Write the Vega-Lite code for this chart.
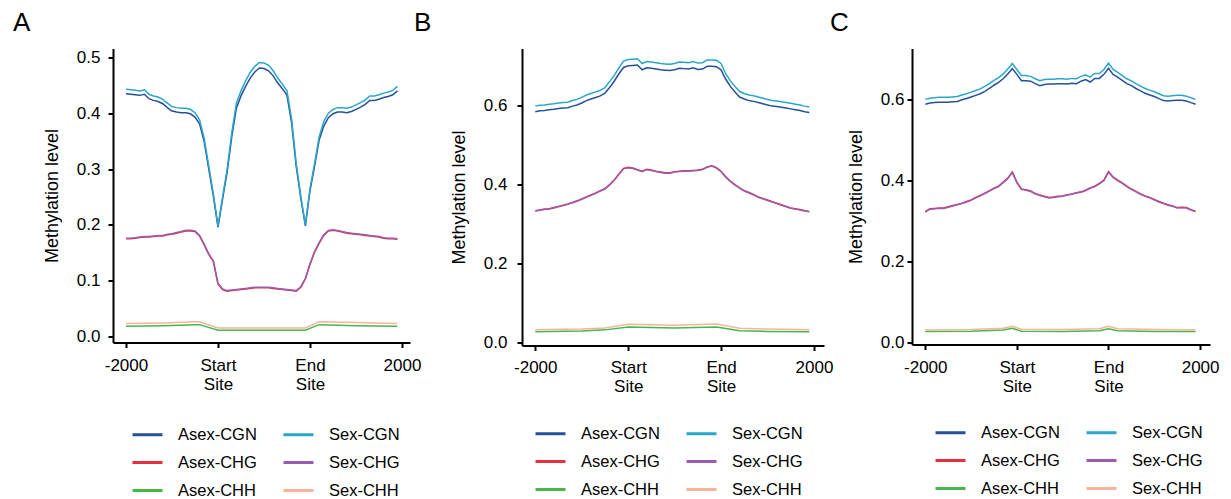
{
  "$schema": "https://vega.github.io/schema/vega-lite/v6.json",
  "background": "white",
  "padding": {"left": 13, "top": 9.5, "right": 2, "bottom": 2},
  "config": {
    "font": "Liberation Sans",
    "view": {"stroke": null},
    "axis": {"grid": false, "domainColor": "#000", "domainWidth": 2, "tickColor": "#000", "tickWidth": 2, "tickSize": 5, "labelColor": "#000", "labelFontSize": 17, "titleFontSize": 18, "titleFontWeight": "normal", "titleColor": "#000", "titlePadding": 15},
    "title": {"fontSize": 26, "fontWeight": "normal", "anchor": "start", "frame": "group", "offset": 12.5, "color": "#000"},
    "legend": {"orient": "none", "columns": 2, "direction": "horizontal", "title": null, "symbolType": "M-1,0H3", "symbolSize": 225, "symbolStrokeWidth": 3, "labelOffset": 29, "labelFontSize": 16.5, "labelColor": "#000", "rowPadding": 10, "columnPadding": 20}
  },
  "resolve": {"legend": {"color": "independent"}, "scale": {"color": "independent"}},
  "datasets": {
    "A": [
      {"s":"Asex-CGN","x":0,"y":0.435},{"s":"Asex-CGN","x":1,"y":0.434},{"s":"Asex-CGN","x":2,"y":0.433},{"s":"Asex-CGN","x":3,"y":0.432},{"s":"Asex-CGN","x":4,"y":0.434},{"s":"Asex-CGN","x":5,"y":0.426},{"s":"Asex-CGN","x":6,"y":0.423},{"s":"Asex-CGN","x":7,"y":0.421},{"s":"Asex-CGN","x":8,"y":0.417},{"s":"Asex-CGN","x":9,"y":0.410},{"s":"Asex-CGN","x":10,"y":0.404},{"s":"Asex-CGN","x":11,"y":0.402},{"s":"Asex-CGN","x":12,"y":0.401},{"s":"Asex-CGN","x":13,"y":0.401},{"s":"Asex-CGN","x":14,"y":0.399},{"s":"Asex-CGN","x":15,"y":0.393},{"s":"Asex-CGN","x":16,"y":0.381},{"s":"Asex-CGN","x":17,"y":0.349},{"s":"Asex-CGN","x":18,"y":0.300},{"s":"Asex-CGN","x":19,"y":0.251},{"s":"Asex-CGN","x":20,"y":0.196},{"s":"Asex-CGN","x":21,"y":0.246},{"s":"Asex-CGN","x":22,"y":0.295},{"s":"Asex-CGN","x":23,"y":0.358},{"s":"Asex-CGN","x":24,"y":0.409},{"s":"Asex-CGN","x":25,"y":0.431},{"s":"Asex-CGN","x":26,"y":0.448},{"s":"Asex-CGN","x":27,"y":0.463},{"s":"Asex-CGN","x":28,"y":0.474},{"s":"Asex-CGN","x":29,"y":0.481},{"s":"Asex-CGN","x":30,"y":0.480},{"s":"Asex-CGN","x":31,"y":0.476},{"s":"Asex-CGN","x":32,"y":0.467},{"s":"Asex-CGN","x":33,"y":0.454},{"s":"Asex-CGN","x":34,"y":0.444},{"s":"Asex-CGN","x":35,"y":0.432},{"s":"Asex-CGN","x":36,"y":0.383},{"s":"Asex-CGN","x":37,"y":0.305},{"s":"Asex-CGN","x":38,"y":0.248},{"s":"Asex-CGN","x":39,"y":0.198},{"s":"Asex-CGN","x":40,"y":0.261},{"s":"Asex-CGN","x":41,"y":0.305},{"s":"Asex-CGN","x":42,"y":0.352},{"s":"Asex-CGN","x":43,"y":0.377},{"s":"Asex-CGN","x":44,"y":0.392},{"s":"Asex-CGN","x":45,"y":0.399},{"s":"Asex-CGN","x":46,"y":0.402},{"s":"Asex-CGN","x":47,"y":0.402},{"s":"Asex-CGN","x":48,"y":0.401},{"s":"Asex-CGN","x":49,"y":0.403},{"s":"Asex-CGN","x":50,"y":0.407},{"s":"Asex-CGN","x":51,"y":0.411},{"s":"Asex-CGN","x":52,"y":0.416},{"s":"Asex-CGN","x":53,"y":0.423},{"s":"Asex-CGN","x":54,"y":0.423},{"s":"Asex-CGN","x":55,"y":0.425},{"s":"Asex-CGN","x":56,"y":0.428},{"s":"Asex-CGN","x":57,"y":0.430},{"s":"Asex-CGN","x":58,"y":0.433},{"s":"Asex-CGN","x":59,"y":0.440},
      {"s":"Asex-CHG","x":0,"y":0.175},{"s":"Asex-CHG","x":1,"y":0.175},{"s":"Asex-CHG","x":2,"y":0.176},{"s":"Asex-CHG","x":3,"y":0.177},{"s":"Asex-CHG","x":4,"y":0.178},{"s":"Asex-CHG","x":5,"y":0.178},{"s":"Asex-CHG","x":6,"y":0.179},{"s":"Asex-CHG","x":7,"y":0.180},{"s":"Asex-CHG","x":8,"y":0.180},{"s":"Asex-CHG","x":9,"y":0.182},{"s":"Asex-CHG","x":10,"y":0.183},{"s":"Asex-CHG","x":11,"y":0.185},{"s":"Asex-CHG","x":12,"y":0.187},{"s":"Asex-CHG","x":13,"y":0.189},{"s":"Asex-CHG","x":14,"y":0.189},{"s":"Asex-CHG","x":15,"y":0.188},{"s":"Asex-CHG","x":16,"y":0.180},{"s":"Asex-CHG","x":17,"y":0.164},{"s":"Asex-CHG","x":18,"y":0.147},{"s":"Asex-CHG","x":19,"y":0.134},{"s":"Asex-CHG","x":20,"y":0.094},{"s":"Asex-CHG","x":21,"y":0.084},{"s":"Asex-CHG","x":22,"y":0.081},{"s":"Asex-CHG","x":23,"y":0.082},{"s":"Asex-CHG","x":24,"y":0.083},{"s":"Asex-CHG","x":25,"y":0.084},{"s":"Asex-CHG","x":26,"y":0.085},{"s":"Asex-CHG","x":27,"y":0.086},{"s":"Asex-CHG","x":28,"y":0.087},{"s":"Asex-CHG","x":29,"y":0.087},{"s":"Asex-CHG","x":30,"y":0.087},{"s":"Asex-CHG","x":31,"y":0.087},{"s":"Asex-CHG","x":32,"y":0.086},{"s":"Asex-CHG","x":33,"y":0.085},{"s":"Asex-CHG","x":34,"y":0.084},{"s":"Asex-CHG","x":35,"y":0.083},{"s":"Asex-CHG","x":36,"y":0.082},{"s":"Asex-CHG","x":37,"y":0.081},{"s":"Asex-CHG","x":38,"y":0.088},{"s":"Asex-CHG","x":39,"y":0.103},{"s":"Asex-CHG","x":40,"y":0.129},{"s":"Asex-CHG","x":41,"y":0.151},{"s":"Asex-CHG","x":42,"y":0.167},{"s":"Asex-CHG","x":43,"y":0.181},{"s":"Asex-CHG","x":44,"y":0.189},{"s":"Asex-CHG","x":45,"y":0.190},{"s":"Asex-CHG","x":46,"y":0.189},{"s":"Asex-CHG","x":47,"y":0.187},{"s":"Asex-CHG","x":48,"y":0.185},{"s":"Asex-CHG","x":49,"y":0.184},{"s":"Asex-CHG","x":50,"y":0.183},{"s":"Asex-CHG","x":51,"y":0.182},{"s":"Asex-CHG","x":52,"y":0.181},{"s":"Asex-CHG","x":53,"y":0.180},{"s":"Asex-CHG","x":54,"y":0.179},{"s":"Asex-CHG","x":55,"y":0.178},{"s":"Asex-CHG","x":56,"y":0.176},{"s":"Asex-CHG","x":57,"y":0.175},{"s":"Asex-CHG","x":58,"y":0.175},{"s":"Asex-CHG","x":59,"y":0.174},
      {"s":"Asex-CHH","x":0,"y":0.018},{"s":"Asex-CHH","x":8,"y":0.019},{"s":"Asex-CHH","x":15,"y":0.021},{"s":"Asex-CHH","x":16,"y":0.021},{"s":"Asex-CHH","x":20,"y":0.011},{"s":"Asex-CHH","x":30,"y":0.011},{"s":"Asex-CHH","x":39,"y":0.011},{"s":"Asex-CHH","x":42,"y":0.021},{"s":"Asex-CHH","x":50,"y":0.019},{"s":"Asex-CHH","x":59,"y":0.018},
      {"s":"Sex-CGN","x":0,"y":0.443},{"s":"Sex-CGN","x":1,"y":0.442},{"s":"Sex-CGN","x":2,"y":0.441},{"s":"Sex-CGN","x":3,"y":0.440},{"s":"Sex-CGN","x":4,"y":0.442},{"s":"Sex-CGN","x":5,"y":0.434},{"s":"Sex-CGN","x":6,"y":0.431},{"s":"Sex-CGN","x":7,"y":0.429},{"s":"Sex-CGN","x":8,"y":0.425},{"s":"Sex-CGN","x":9,"y":0.418},{"s":"Sex-CGN","x":10,"y":0.412},{"s":"Sex-CGN","x":11,"y":0.410},{"s":"Sex-CGN","x":12,"y":0.409},{"s":"Sex-CGN","x":13,"y":0.409},{"s":"Sex-CGN","x":14,"y":0.407},{"s":"Sex-CGN","x":15,"y":0.401},{"s":"Sex-CGN","x":16,"y":0.388},{"s":"Sex-CGN","x":17,"y":0.355},{"s":"Sex-CGN","x":18,"y":0.305},{"s":"Sex-CGN","x":19,"y":0.255},{"s":"Sex-CGN","x":20,"y":0.198},{"s":"Sex-CGN","x":21,"y":0.250},{"s":"Sex-CGN","x":22,"y":0.300},{"s":"Sex-CGN","x":23,"y":0.365},{"s":"Sex-CGN","x":24,"y":0.418},{"s":"Sex-CGN","x":25,"y":0.440},{"s":"Sex-CGN","x":26,"y":0.458},{"s":"Sex-CGN","x":27,"y":0.473},{"s":"Sex-CGN","x":28,"y":0.484},{"s":"Sex-CGN","x":29,"y":0.491},{"s":"Sex-CGN","x":30,"y":0.490},{"s":"Sex-CGN","x":31,"y":0.486},{"s":"Sex-CGN","x":32,"y":0.476},{"s":"Sex-CGN","x":33,"y":0.463},{"s":"Sex-CGN","x":34,"y":0.452},{"s":"Sex-CGN","x":35,"y":0.440},{"s":"Sex-CGN","x":36,"y":0.390},{"s":"Sex-CGN","x":37,"y":0.310},{"s":"Sex-CGN","x":38,"y":0.252},{"s":"Sex-CGN","x":39,"y":0.200},{"s":"Sex-CGN","x":40,"y":0.265},{"s":"Sex-CGN","x":41,"y":0.310},{"s":"Sex-CGN","x":42,"y":0.358},{"s":"Sex-CGN","x":43,"y":0.385},{"s":"Sex-CGN","x":44,"y":0.400},{"s":"Sex-CGN","x":45,"y":0.407},{"s":"Sex-CGN","x":46,"y":0.410},{"s":"Sex-CGN","x":47,"y":0.410},{"s":"Sex-CGN","x":48,"y":0.409},{"s":"Sex-CGN","x":49,"y":0.411},{"s":"Sex-CGN","x":50,"y":0.415},{"s":"Sex-CGN","x":51,"y":0.419},{"s":"Sex-CGN","x":52,"y":0.424},{"s":"Sex-CGN","x":53,"y":0.431},{"s":"Sex-CGN","x":54,"y":0.431},{"s":"Sex-CGN","x":55,"y":0.433},{"s":"Sex-CGN","x":56,"y":0.436},{"s":"Sex-CGN","x":57,"y":0.438},{"s":"Sex-CGN","x":58,"y":0.441},{"s":"Sex-CGN","x":59,"y":0.448},
      {"s":"Sex-CHG","x":0,"y":0.176},{"s":"Sex-CHG","x":1,"y":0.176},{"s":"Sex-CHG","x":2,"y":0.177},{"s":"Sex-CHG","x":3,"y":0.178},{"s":"Sex-CHG","x":4,"y":0.179},{"s":"Sex-CHG","x":5,"y":0.179},{"s":"Sex-CHG","x":6,"y":0.180},{"s":"Sex-CHG","x":7,"y":0.181},{"s":"Sex-CHG","x":8,"y":0.181},{"s":"Sex-CHG","x":9,"y":0.183},{"s":"Sex-CHG","x":10,"y":0.184},{"s":"Sex-CHG","x":11,"y":0.186},{"s":"Sex-CHG","x":12,"y":0.188},{"s":"Sex-CHG","x":13,"y":0.190},{"s":"Sex-CHG","x":14,"y":0.190},{"s":"Sex-CHG","x":15,"y":0.189},{"s":"Sex-CHG","x":16,"y":0.181},{"s":"Sex-CHG","x":17,"y":0.165},{"s":"Sex-CHG","x":18,"y":0.148},{"s":"Sex-CHG","x":19,"y":0.135},{"s":"Sex-CHG","x":20,"y":0.095},{"s":"Sex-CHG","x":21,"y":0.085},{"s":"Sex-CHG","x":22,"y":0.082},{"s":"Sex-CHG","x":23,"y":0.083},{"s":"Sex-CHG","x":24,"y":0.084},{"s":"Sex-CHG","x":25,"y":0.085},{"s":"Sex-CHG","x":26,"y":0.086},{"s":"Sex-CHG","x":27,"y":0.087},{"s":"Sex-CHG","x":28,"y":0.088},{"s":"Sex-CHG","x":29,"y":0.088},{"s":"Sex-CHG","x":30,"y":0.088},{"s":"Sex-CHG","x":31,"y":0.088},{"s":"Sex-CHG","x":32,"y":0.087},{"s":"Sex-CHG","x":33,"y":0.086},{"s":"Sex-CHG","x":34,"y":0.085},{"s":"Sex-CHG","x":35,"y":0.084},{"s":"Sex-CHG","x":36,"y":0.083},{"s":"Sex-CHG","x":37,"y":0.082},{"s":"Sex-CHG","x":38,"y":0.089},{"s":"Sex-CHG","x":39,"y":0.104},{"s":"Sex-CHG","x":40,"y":0.130},{"s":"Sex-CHG","x":41,"y":0.152},{"s":"Sex-CHG","x":42,"y":0.168},{"s":"Sex-CHG","x":43,"y":0.182},{"s":"Sex-CHG","x":44,"y":0.190},{"s":"Sex-CHG","x":45,"y":0.191},{"s":"Sex-CHG","x":46,"y":0.190},{"s":"Sex-CHG","x":47,"y":0.188},{"s":"Sex-CHG","x":48,"y":0.186},{"s":"Sex-CHG","x":49,"y":0.185},{"s":"Sex-CHG","x":50,"y":0.184},{"s":"Sex-CHG","x":51,"y":0.183},{"s":"Sex-CHG","x":52,"y":0.182},{"s":"Sex-CHG","x":53,"y":0.181},{"s":"Sex-CHG","x":54,"y":0.180},{"s":"Sex-CHG","x":55,"y":0.179},{"s":"Sex-CHG","x":56,"y":0.177},{"s":"Sex-CHG","x":57,"y":0.176},{"s":"Sex-CHG","x":58,"y":0.176},{"s":"Sex-CHG","x":59,"y":0.175},
      {"s":"Sex-CHH","x":0,"y":0.023},{"s":"Sex-CHH","x":8,"y":0.024},{"s":"Sex-CHH","x":15,"y":0.026},{"s":"Sex-CHH","x":16,"y":0.026},{"s":"Sex-CHH","x":20,"y":0.015},{"s":"Sex-CHH","x":30,"y":0.015},{"s":"Sex-CHH","x":39,"y":0.015},{"s":"Sex-CHH","x":42,"y":0.026},{"s":"Sex-CHH","x":50,"y":0.025},{"s":"Sex-CHH","x":59,"y":0.023}
    ],
    "B": [
      {"s":"Asex-CGN","x":0,"y":0.584},{"s":"Asex-CGN","x":1,"y":0.586},{"s":"Asex-CGN","x":2,"y":0.587},{"s":"Asex-CGN","x":3,"y":0.589},{"s":"Asex-CGN","x":4,"y":0.590},{"s":"Asex-CGN","x":5,"y":0.592},{"s":"Asex-CGN","x":6,"y":0.593},{"s":"Asex-CGN","x":7,"y":0.594},{"s":"Asex-CGN","x":8,"y":0.598},{"s":"Asex-CGN","x":9,"y":0.601},{"s":"Asex-CGN","x":10,"y":0.606},{"s":"Asex-CGN","x":11,"y":0.612},{"s":"Asex-CGN","x":12,"y":0.616},{"s":"Asex-CGN","x":13,"y":0.620},{"s":"Asex-CGN","x":14,"y":0.624},{"s":"Asex-CGN","x":15,"y":0.631},{"s":"Asex-CGN","x":16,"y":0.645},{"s":"Asex-CGN","x":17,"y":0.661},{"s":"Asex-CGN","x":18,"y":0.680},{"s":"Asex-CGN","x":19,"y":0.696},{"s":"Asex-CGN","x":20,"y":0.700},{"s":"Asex-CGN","x":21,"y":0.701},{"s":"Asex-CGN","x":22,"y":0.702},{"s":"Asex-CGN","x":23,"y":0.690},{"s":"Asex-CGN","x":24,"y":0.695},{"s":"Asex-CGN","x":25,"y":0.694},{"s":"Asex-CGN","x":26,"y":0.692},{"s":"Asex-CGN","x":27,"y":0.690},{"s":"Asex-CGN","x":28,"y":0.689},{"s":"Asex-CGN","x":29,"y":0.688},{"s":"Asex-CGN","x":30,"y":0.690},{"s":"Asex-CGN","x":31,"y":0.694},{"s":"Asex-CGN","x":32,"y":0.693},{"s":"Asex-CGN","x":33,"y":0.692},{"s":"Asex-CGN","x":34,"y":0.695},{"s":"Asex-CGN","x":35,"y":0.691},{"s":"Asex-CGN","x":36,"y":0.692},{"s":"Asex-CGN","x":37,"y":0.699},{"s":"Asex-CGN","x":38,"y":0.699},{"s":"Asex-CGN","x":39,"y":0.698},{"s":"Asex-CGN","x":40,"y":0.690},{"s":"Asex-CGN","x":41,"y":0.666},{"s":"Asex-CGN","x":42,"y":0.648},{"s":"Asex-CGN","x":43,"y":0.634},{"s":"Asex-CGN","x":44,"y":0.621},{"s":"Asex-CGN","x":45,"y":0.616},{"s":"Asex-CGN","x":46,"y":0.612},{"s":"Asex-CGN","x":47,"y":0.610},{"s":"Asex-CGN","x":48,"y":0.607},{"s":"Asex-CGN","x":49,"y":0.604},{"s":"Asex-CGN","x":50,"y":0.601},{"s":"Asex-CGN","x":51,"y":0.598},{"s":"Asex-CGN","x":52,"y":0.597},{"s":"Asex-CGN","x":53,"y":0.595},{"s":"Asex-CGN","x":54,"y":0.593},{"s":"Asex-CGN","x":55,"y":0.591},{"s":"Asex-CGN","x":56,"y":0.589},{"s":"Asex-CGN","x":57,"y":0.587},{"s":"Asex-CGN","x":58,"y":0.584},{"s":"Asex-CGN","x":59,"y":0.582},
      {"s":"Asex-CHG","x":0,"y":0.333},{"s":"Asex-CHG","x":1,"y":0.335},{"s":"Asex-CHG","x":2,"y":0.337},{"s":"Asex-CHG","x":3,"y":0.338},{"s":"Asex-CHG","x":4,"y":0.341},{"s":"Asex-CHG","x":5,"y":0.344},{"s":"Asex-CHG","x":6,"y":0.347},{"s":"Asex-CHG","x":7,"y":0.350},{"s":"Asex-CHG","x":8,"y":0.354},{"s":"Asex-CHG","x":9,"y":0.358},{"s":"Asex-CHG","x":10,"y":0.363},{"s":"Asex-CHG","x":11,"y":0.368},{"s":"Asex-CHG","x":12,"y":0.373},{"s":"Asex-CHG","x":13,"y":0.378},{"s":"Asex-CHG","x":14,"y":0.384},{"s":"Asex-CHG","x":15,"y":0.389},{"s":"Asex-CHG","x":16,"y":0.399},{"s":"Asex-CHG","x":17,"y":0.411},{"s":"Asex-CHG","x":18,"y":0.426},{"s":"Asex-CHG","x":19,"y":0.440},{"s":"Asex-CHG","x":20,"y":0.443},{"s":"Asex-CHG","x":21,"y":0.441},{"s":"Asex-CHG","x":22,"y":0.437},{"s":"Asex-CHG","x":23,"y":0.433},{"s":"Asex-CHG","x":24,"y":0.438},{"s":"Asex-CHG","x":25,"y":0.436},{"s":"Asex-CHG","x":26,"y":0.433},{"s":"Asex-CHG","x":27,"y":0.431},{"s":"Asex-CHG","x":28,"y":0.429},{"s":"Asex-CHG","x":29,"y":0.429},{"s":"Asex-CHG","x":30,"y":0.432},{"s":"Asex-CHG","x":31,"y":0.433},{"s":"Asex-CHG","x":32,"y":0.434},{"s":"Asex-CHG","x":33,"y":0.434},{"s":"Asex-CHG","x":34,"y":0.435},{"s":"Asex-CHG","x":35,"y":0.436},{"s":"Asex-CHG","x":36,"y":0.438},{"s":"Asex-CHG","x":37,"y":0.444},{"s":"Asex-CHG","x":38,"y":0.447},{"s":"Asex-CHG","x":39,"y":0.442},{"s":"Asex-CHG","x":40,"y":0.433},{"s":"Asex-CHG","x":41,"y":0.419},{"s":"Asex-CHG","x":42,"y":0.408},{"s":"Asex-CHG","x":43,"y":0.399},{"s":"Asex-CHG","x":44,"y":0.391},{"s":"Asex-CHG","x":45,"y":0.384},{"s":"Asex-CHG","x":46,"y":0.379},{"s":"Asex-CHG","x":47,"y":0.374},{"s":"Asex-CHG","x":48,"y":0.368},{"s":"Asex-CHG","x":49,"y":0.364},{"s":"Asex-CHG","x":50,"y":0.360},{"s":"Asex-CHG","x":51,"y":0.356},{"s":"Asex-CHG","x":52,"y":0.352},{"s":"Asex-CHG","x":53,"y":0.348},{"s":"Asex-CHG","x":54,"y":0.344},{"s":"Asex-CHG","x":55,"y":0.340},{"s":"Asex-CHG","x":56,"y":0.338},{"s":"Asex-CHG","x":57,"y":0.336},{"s":"Asex-CHG","x":58,"y":0.333},{"s":"Asex-CHG","x":59,"y":0.331},
      {"s":"Asex-CHH","x":0,"y":0.026},{"s":"Asex-CHH","x":10,"y":0.028},{"s":"Asex-CHH","x":15,"y":0.031},{"s":"Asex-CHH","x":20,"y":0.038},{"s":"Asex-CHH","x":30,"y":0.036},{"s":"Asex-CHH","x":39,"y":0.038},{"s":"Asex-CHH","x":44,"y":0.029},{"s":"Asex-CHH","x":50,"y":0.027},{"s":"Asex-CHH","x":59,"y":0.026},
      {"s":"Sex-CGN","x":0,"y":0.598},{"s":"Sex-CGN","x":1,"y":0.600},{"s":"Sex-CGN","x":2,"y":0.601},{"s":"Sex-CGN","x":3,"y":0.603},{"s":"Sex-CGN","x":4,"y":0.604},{"s":"Sex-CGN","x":5,"y":0.606},{"s":"Sex-CGN","x":6,"y":0.607},{"s":"Sex-CGN","x":7,"y":0.608},{"s":"Sex-CGN","x":8,"y":0.612},{"s":"Sex-CGN","x":9,"y":0.615},{"s":"Sex-CGN","x":10,"y":0.620},{"s":"Sex-CGN","x":11,"y":0.626},{"s":"Sex-CGN","x":12,"y":0.630},{"s":"Sex-CGN","x":13,"y":0.634},{"s":"Sex-CGN","x":14,"y":0.638},{"s":"Sex-CGN","x":15,"y":0.645},{"s":"Sex-CGN","x":16,"y":0.660},{"s":"Sex-CGN","x":17,"y":0.676},{"s":"Sex-CGN","x":18,"y":0.695},{"s":"Sex-CGN","x":19,"y":0.712},{"s":"Sex-CGN","x":20,"y":0.716},{"s":"Sex-CGN","x":21,"y":0.717},{"s":"Sex-CGN","x":22,"y":0.718},{"s":"Sex-CGN","x":23,"y":0.706},{"s":"Sex-CGN","x":24,"y":0.711},{"s":"Sex-CGN","x":25,"y":0.710},{"s":"Sex-CGN","x":26,"y":0.708},{"s":"Sex-CGN","x":27,"y":0.706},{"s":"Sex-CGN","x":28,"y":0.705},{"s":"Sex-CGN","x":29,"y":0.704},{"s":"Sex-CGN","x":30,"y":0.706},{"s":"Sex-CGN","x":31,"y":0.710},{"s":"Sex-CGN","x":32,"y":0.709},{"s":"Sex-CGN","x":33,"y":0.708},{"s":"Sex-CGN","x":34,"y":0.711},{"s":"Sex-CGN","x":35,"y":0.707},{"s":"Sex-CGN","x":36,"y":0.708},{"s":"Sex-CGN","x":37,"y":0.715},{"s":"Sex-CGN","x":38,"y":0.715},{"s":"Sex-CGN","x":39,"y":0.714},{"s":"Sex-CGN","x":40,"y":0.706},{"s":"Sex-CGN","x":41,"y":0.680},{"s":"Sex-CGN","x":42,"y":0.662},{"s":"Sex-CGN","x":43,"y":0.648},{"s":"Sex-CGN","x":44,"y":0.635},{"s":"Sex-CGN","x":45,"y":0.630},{"s":"Sex-CGN","x":46,"y":0.626},{"s":"Sex-CGN","x":47,"y":0.624},{"s":"Sex-CGN","x":48,"y":0.621},{"s":"Sex-CGN","x":49,"y":0.618},{"s":"Sex-CGN","x":50,"y":0.615},{"s":"Sex-CGN","x":51,"y":0.612},{"s":"Sex-CGN","x":52,"y":0.611},{"s":"Sex-CGN","x":53,"y":0.609},{"s":"Sex-CGN","x":54,"y":0.607},{"s":"Sex-CGN","x":55,"y":0.605},{"s":"Sex-CGN","x":56,"y":0.603},{"s":"Sex-CGN","x":57,"y":0.601},{"s":"Sex-CGN","x":58,"y":0.598},{"s":"Sex-CGN","x":59,"y":0.596},
      {"s":"Sex-CHG","x":0,"y":0.332},{"s":"Sex-CHG","x":1,"y":0.334},{"s":"Sex-CHG","x":2,"y":0.336},{"s":"Sex-CHG","x":3,"y":0.337},{"s":"Sex-CHG","x":4,"y":0.340},{"s":"Sex-CHG","x":5,"y":0.343},{"s":"Sex-CHG","x":6,"y":0.346},{"s":"Sex-CHG","x":7,"y":0.349},{"s":"Sex-CHG","x":8,"y":0.353},{"s":"Sex-CHG","x":9,"y":0.357},{"s":"Sex-CHG","x":10,"y":0.362},{"s":"Sex-CHG","x":11,"y":0.367},{"s":"Sex-CHG","x":12,"y":0.372},{"s":"Sex-CHG","x":13,"y":0.377},{"s":"Sex-CHG","x":14,"y":0.383},{"s":"Sex-CHG","x":15,"y":0.388},{"s":"Sex-CHG","x":16,"y":0.398},{"s":"Sex-CHG","x":17,"y":0.410},{"s":"Sex-CHG","x":18,"y":0.425},{"s":"Sex-CHG","x":19,"y":0.439},{"s":"Sex-CHG","x":20,"y":0.442},{"s":"Sex-CHG","x":21,"y":0.440},{"s":"Sex-CHG","x":22,"y":0.436},{"s":"Sex-CHG","x":23,"y":0.432},{"s":"Sex-CHG","x":24,"y":0.437},{"s":"Sex-CHG","x":25,"y":0.435},{"s":"Sex-CHG","x":26,"y":0.432},{"s":"Sex-CHG","x":27,"y":0.430},{"s":"Sex-CHG","x":28,"y":0.428},{"s":"Sex-CHG","x":29,"y":0.428},{"s":"Sex-CHG","x":30,"y":0.431},{"s":"Sex-CHG","x":31,"y":0.432},{"s":"Sex-CHG","x":32,"y":0.433},{"s":"Sex-CHG","x":33,"y":0.433},{"s":"Sex-CHG","x":34,"y":0.434},{"s":"Sex-CHG","x":35,"y":0.435},{"s":"Sex-CHG","x":36,"y":0.437},{"s":"Sex-CHG","x":37,"y":0.443},{"s":"Sex-CHG","x":38,"y":0.446},{"s":"Sex-CHG","x":39,"y":0.441},{"s":"Sex-CHG","x":40,"y":0.432},{"s":"Sex-CHG","x":41,"y":0.418},{"s":"Sex-CHG","x":42,"y":0.407},{"s":"Sex-CHG","x":43,"y":0.398},{"s":"Sex-CHG","x":44,"y":0.390},{"s":"Sex-CHG","x":45,"y":0.383},{"s":"Sex-CHG","x":46,"y":0.378},{"s":"Sex-CHG","x":47,"y":0.373},{"s":"Sex-CHG","x":48,"y":0.367},{"s":"Sex-CHG","x":49,"y":0.363},{"s":"Sex-CHG","x":50,"y":0.359},{"s":"Sex-CHG","x":51,"y":0.355},{"s":"Sex-CHG","x":52,"y":0.351},{"s":"Sex-CHG","x":53,"y":0.347},{"s":"Sex-CHG","x":54,"y":0.343},{"s":"Sex-CHG","x":55,"y":0.339},{"s":"Sex-CHG","x":56,"y":0.337},{"s":"Sex-CHG","x":57,"y":0.335},{"s":"Sex-CHG","x":58,"y":0.332},{"s":"Sex-CHG","x":59,"y":0.330},
      {"s":"Sex-CHH","x":0,"y":0.031},{"s":"Sex-CHH","x":10,"y":0.033},{"s":"Sex-CHH","x":15,"y":0.036},{"s":"Sex-CHH","x":20,"y":0.045},{"s":"Sex-CHH","x":30,"y":0.043},{"s":"Sex-CHH","x":39,"y":0.046},{"s":"Sex-CHH","x":44,"y":0.035},{"s":"Sex-CHH","x":50,"y":0.033},{"s":"Sex-CHH","x":59,"y":0.031}
    ],
    "C": [
      {"s":"Asex-CGN","x":0,"y":0.589},{"s":"Asex-CGN","x":1,"y":0.592},{"s":"Asex-CGN","x":2,"y":0.593},{"s":"Asex-CGN","x":3,"y":0.594},{"s":"Asex-CGN","x":4,"y":0.594},{"s":"Asex-CGN","x":5,"y":0.594},{"s":"Asex-CGN","x":6,"y":0.595},{"s":"Asex-CGN","x":7,"y":0.596},{"s":"Asex-CGN","x":8,"y":0.600},{"s":"Asex-CGN","x":9,"y":0.603},{"s":"Asex-CGN","x":10,"y":0.607},{"s":"Asex-CGN","x":11,"y":0.611},{"s":"Asex-CGN","x":12,"y":0.615},{"s":"Asex-CGN","x":13,"y":0.621},{"s":"Asex-CGN","x":14,"y":0.628},{"s":"Asex-CGN","x":15,"y":0.636},{"s":"Asex-CGN","x":16,"y":0.643},{"s":"Asex-CGN","x":17,"y":0.652},{"s":"Asex-CGN","x":18,"y":0.664},{"s":"Asex-CGN","x":19,"y":0.677},{"s":"Asex-CGN","x":20,"y":0.663},{"s":"Asex-CGN","x":21,"y":0.647},{"s":"Asex-CGN","x":22,"y":0.647},{"s":"Asex-CGN","x":23,"y":0.646},{"s":"Asex-CGN","x":24,"y":0.640},{"s":"Asex-CGN","x":25,"y":0.635},{"s":"Asex-CGN","x":26,"y":0.638},{"s":"Asex-CGN","x":27,"y":0.639},{"s":"Asex-CGN","x":28,"y":0.639},{"s":"Asex-CGN","x":29,"y":0.640},{"s":"Asex-CGN","x":30,"y":0.640},{"s":"Asex-CGN","x":31,"y":0.639},{"s":"Asex-CGN","x":32,"y":0.641},{"s":"Asex-CGN","x":33,"y":0.640},{"s":"Asex-CGN","x":34,"y":0.646},{"s":"Asex-CGN","x":35,"y":0.650},{"s":"Asex-CGN","x":36,"y":0.644},{"s":"Asex-CGN","x":37,"y":0.653},{"s":"Asex-CGN","x":38,"y":0.653},{"s":"Asex-CGN","x":39,"y":0.663},{"s":"Asex-CGN","x":40,"y":0.678},{"s":"Asex-CGN","x":41,"y":0.663},{"s":"Asex-CGN","x":42,"y":0.656},{"s":"Asex-CGN","x":43,"y":0.648},{"s":"Asex-CGN","x":44,"y":0.640},{"s":"Asex-CGN","x":45,"y":0.635},{"s":"Asex-CGN","x":46,"y":0.628},{"s":"Asex-CGN","x":47,"y":0.622},{"s":"Asex-CGN","x":48,"y":0.616},{"s":"Asex-CGN","x":49,"y":0.612},{"s":"Asex-CGN","x":50,"y":0.608},{"s":"Asex-CGN","x":51,"y":0.603},{"s":"Asex-CGN","x":52,"y":0.598},{"s":"Asex-CGN","x":53,"y":0.597},{"s":"Asex-CGN","x":54,"y":0.598},{"s":"Asex-CGN","x":55,"y":0.599},{"s":"Asex-CGN","x":56,"y":0.599},{"s":"Asex-CGN","x":57,"y":0.597},{"s":"Asex-CGN","x":58,"y":0.593},{"s":"Asex-CGN","x":59,"y":0.589},
      {"s":"Asex-CHG","x":0,"y":0.323},{"s":"Asex-CHG","x":1,"y":0.330},{"s":"Asex-CHG","x":2,"y":0.331},{"s":"Asex-CHG","x":3,"y":0.332},{"s":"Asex-CHG","x":4,"y":0.332},{"s":"Asex-CHG","x":5,"y":0.335},{"s":"Asex-CHG","x":6,"y":0.338},{"s":"Asex-CHG","x":7,"y":0.341},{"s":"Asex-CHG","x":8,"y":0.344},{"s":"Asex-CHG","x":9,"y":0.348},{"s":"Asex-CHG","x":10,"y":0.352},{"s":"Asex-CHG","x":11,"y":0.358},{"s":"Asex-CHG","x":12,"y":0.363},{"s":"Asex-CHG","x":13,"y":0.369},{"s":"Asex-CHG","x":14,"y":0.375},{"s":"Asex-CHG","x":15,"y":0.381},{"s":"Asex-CHG","x":16,"y":0.386},{"s":"Asex-CHG","x":17,"y":0.396},{"s":"Asex-CHG","x":18,"y":0.406},{"s":"Asex-CHG","x":19,"y":0.421},{"s":"Asex-CHG","x":20,"y":0.396},{"s":"Asex-CHG","x":21,"y":0.379},{"s":"Asex-CHG","x":22,"y":0.377},{"s":"Asex-CHG","x":23,"y":0.374},{"s":"Asex-CHG","x":24,"y":0.368},{"s":"Asex-CHG","x":25,"y":0.364},{"s":"Asex-CHG","x":26,"y":0.361},{"s":"Asex-CHG","x":27,"y":0.358},{"s":"Asex-CHG","x":28,"y":0.359},{"s":"Asex-CHG","x":29,"y":0.361},{"s":"Asex-CHG","x":30,"y":0.362},{"s":"Asex-CHG","x":31,"y":0.365},{"s":"Asex-CHG","x":32,"y":0.367},{"s":"Asex-CHG","x":33,"y":0.370},{"s":"Asex-CHG","x":34,"y":0.372},{"s":"Asex-CHG","x":35,"y":0.376},{"s":"Asex-CHG","x":36,"y":0.382},{"s":"Asex-CHG","x":37,"y":0.386},{"s":"Asex-CHG","x":38,"y":0.393},{"s":"Asex-CHG","x":39,"y":0.401},{"s":"Asex-CHG","x":40,"y":0.422},{"s":"Asex-CHG","x":41,"y":0.409},{"s":"Asex-CHG","x":42,"y":0.401},{"s":"Asex-CHG","x":43,"y":0.394},{"s":"Asex-CHG","x":44,"y":0.386},{"s":"Asex-CHG","x":45,"y":0.379},{"s":"Asex-CHG","x":46,"y":0.373},{"s":"Asex-CHG","x":47,"y":0.367},{"s":"Asex-CHG","x":48,"y":0.362},{"s":"Asex-CHG","x":49,"y":0.358},{"s":"Asex-CHG","x":50,"y":0.353},{"s":"Asex-CHG","x":51,"y":0.348},{"s":"Asex-CHG","x":52,"y":0.344},{"s":"Asex-CHG","x":53,"y":0.340},{"s":"Asex-CHG","x":54,"y":0.337},{"s":"Asex-CHG","x":55,"y":0.333},{"s":"Asex-CHG","x":56,"y":0.334},{"s":"Asex-CHG","x":57,"y":0.333},{"s":"Asex-CHG","x":58,"y":0.328},{"s":"Asex-CHG","x":59,"y":0.324},
      {"s":"Asex-CHH","x":0,"y":0.026},{"s":"Asex-CHH","x":10,"y":0.027},{"s":"Asex-CHH","x":17,"y":0.030},{"s":"Asex-CHH","x":19,"y":0.034},{"s":"Asex-CHH","x":21,"y":0.027},{"s":"Asex-CHH","x":30,"y":0.026},{"s":"Asex-CHH","x":38,"y":0.028},{"s":"Asex-CHH","x":40,"y":0.033},{"s":"Asex-CHH","x":42,"y":0.028},{"s":"Asex-CHH","x":50,"y":0.026},{"s":"Asex-CHH","x":59,"y":0.026},
      {"s":"Sex-CGN","x":0,"y":0.601},{"s":"Sex-CGN","x":1,"y":0.604},{"s":"Sex-CGN","x":2,"y":0.605},{"s":"Sex-CGN","x":3,"y":0.606},{"s":"Sex-CGN","x":4,"y":0.606},{"s":"Sex-CGN","x":5,"y":0.606},{"s":"Sex-CGN","x":6,"y":0.607},{"s":"Sex-CGN","x":7,"y":0.608},{"s":"Sex-CGN","x":8,"y":0.612},{"s":"Sex-CGN","x":9,"y":0.615},{"s":"Sex-CGN","x":10,"y":0.619},{"s":"Sex-CGN","x":11,"y":0.623},{"s":"Sex-CGN","x":12,"y":0.627},{"s":"Sex-CGN","x":13,"y":0.633},{"s":"Sex-CGN","x":14,"y":0.640},{"s":"Sex-CGN","x":15,"y":0.648},{"s":"Sex-CGN","x":16,"y":0.655},{"s":"Sex-CGN","x":17,"y":0.664},{"s":"Sex-CGN","x":18,"y":0.676},{"s":"Sex-CGN","x":19,"y":0.690},{"s":"Sex-CGN","x":20,"y":0.675},{"s":"Sex-CGN","x":21,"y":0.660},{"s":"Sex-CGN","x":22,"y":0.660},{"s":"Sex-CGN","x":23,"y":0.658},{"s":"Sex-CGN","x":24,"y":0.652},{"s":"Sex-CGN","x":25,"y":0.647},{"s":"Sex-CGN","x":26,"y":0.650},{"s":"Sex-CGN","x":27,"y":0.651},{"s":"Sex-CGN","x":28,"y":0.651},{"s":"Sex-CGN","x":29,"y":0.652},{"s":"Sex-CGN","x":30,"y":0.652},{"s":"Sex-CGN","x":31,"y":0.651},{"s":"Sex-CGN","x":32,"y":0.653},{"s":"Sex-CGN","x":33,"y":0.652},{"s":"Sex-CGN","x":34,"y":0.658},{"s":"Sex-CGN","x":35,"y":0.662},{"s":"Sex-CGN","x":36,"y":0.656},{"s":"Sex-CGN","x":37,"y":0.665},{"s":"Sex-CGN","x":38,"y":0.665},{"s":"Sex-CGN","x":39,"y":0.675},{"s":"Sex-CGN","x":40,"y":0.691},{"s":"Sex-CGN","x":41,"y":0.675},{"s":"Sex-CGN","x":42,"y":0.668},{"s":"Sex-CGN","x":43,"y":0.660},{"s":"Sex-CGN","x":44,"y":0.652},{"s":"Sex-CGN","x":45,"y":0.647},{"s":"Sex-CGN","x":46,"y":0.640},{"s":"Sex-CGN","x":47,"y":0.634},{"s":"Sex-CGN","x":48,"y":0.628},{"s":"Sex-CGN","x":49,"y":0.624},{"s":"Sex-CGN","x":50,"y":0.620},{"s":"Sex-CGN","x":51,"y":0.615},{"s":"Sex-CGN","x":52,"y":0.610},{"s":"Sex-CGN","x":53,"y":0.609},{"s":"Sex-CGN","x":54,"y":0.610},{"s":"Sex-CGN","x":55,"y":0.611},{"s":"Sex-CGN","x":56,"y":0.611},{"s":"Sex-CGN","x":57,"y":0.609},{"s":"Sex-CGN","x":58,"y":0.605},{"s":"Sex-CGN","x":59,"y":0.601},
      {"s":"Sex-CHG","x":0,"y":0.322},{"s":"Sex-CHG","x":1,"y":0.329},{"s":"Sex-CHG","x":2,"y":0.330},{"s":"Sex-CHG","x":3,"y":0.331},{"s":"Sex-CHG","x":4,"y":0.331},{"s":"Sex-CHG","x":5,"y":0.334},{"s":"Sex-CHG","x":6,"y":0.337},{"s":"Sex-CHG","x":7,"y":0.340},{"s":"Sex-CHG","x":8,"y":0.343},{"s":"Sex-CHG","x":9,"y":0.347},{"s":"Sex-CHG","x":10,"y":0.351},{"s":"Sex-CHG","x":11,"y":0.357},{"s":"Sex-CHG","x":12,"y":0.362},{"s":"Sex-CHG","x":13,"y":0.368},{"s":"Sex-CHG","x":14,"y":0.374},{"s":"Sex-CHG","x":15,"y":0.380},{"s":"Sex-CHG","x":16,"y":0.385},{"s":"Sex-CHG","x":17,"y":0.395},{"s":"Sex-CHG","x":18,"y":0.405},{"s":"Sex-CHG","x":19,"y":0.420},{"s":"Sex-CHG","x":20,"y":0.395},{"s":"Sex-CHG","x":21,"y":0.378},{"s":"Sex-CHG","x":22,"y":0.376},{"s":"Sex-CHG","x":23,"y":0.373},{"s":"Sex-CHG","x":24,"y":0.367},{"s":"Sex-CHG","x":25,"y":0.363},{"s":"Sex-CHG","x":26,"y":0.360},{"s":"Sex-CHG","x":27,"y":0.357},{"s":"Sex-CHG","x":28,"y":0.358},{"s":"Sex-CHG","x":29,"y":0.360},{"s":"Sex-CHG","x":30,"y":0.361},{"s":"Sex-CHG","x":31,"y":0.364},{"s":"Sex-CHG","x":32,"y":0.366},{"s":"Sex-CHG","x":33,"y":0.369},{"s":"Sex-CHG","x":34,"y":0.371},{"s":"Sex-CHG","x":35,"y":0.375},{"s":"Sex-CHG","x":36,"y":0.381},{"s":"Sex-CHG","x":37,"y":0.385},{"s":"Sex-CHG","x":38,"y":0.392},{"s":"Sex-CHG","x":39,"y":0.400},{"s":"Sex-CHG","x":40,"y":0.421},{"s":"Sex-CHG","x":41,"y":0.408},{"s":"Sex-CHG","x":42,"y":0.400},{"s":"Sex-CHG","x":43,"y":0.393},{"s":"Sex-CHG","x":44,"y":0.385},{"s":"Sex-CHG","x":45,"y":0.378},{"s":"Sex-CHG","x":46,"y":0.372},{"s":"Sex-CHG","x":47,"y":0.366},{"s":"Sex-CHG","x":48,"y":0.361},{"s":"Sex-CHG","x":49,"y":0.357},{"s":"Sex-CHG","x":50,"y":0.352},{"s":"Sex-CHG","x":51,"y":0.347},{"s":"Sex-CHG","x":52,"y":0.343},{"s":"Sex-CHG","x":53,"y":0.339},{"s":"Sex-CHG","x":54,"y":0.336},{"s":"Sex-CHG","x":55,"y":0.332},{"s":"Sex-CHG","x":56,"y":0.333},{"s":"Sex-CHG","x":57,"y":0.332},{"s":"Sex-CHG","x":58,"y":0.327},{"s":"Sex-CHG","x":59,"y":0.323},
      {"s":"Sex-CHH","x":0,"y":0.030},{"s":"Sex-CHH","x":10,"y":0.031},{"s":"Sex-CHH","x":17,"y":0.034},{"s":"Sex-CHH","x":19,"y":0.039},{"s":"Sex-CHH","x":21,"y":0.032},{"s":"Sex-CHH","x":30,"y":0.031},{"s":"Sex-CHH","x":38,"y":0.033},{"s":"Sex-CHH","x":40,"y":0.039},{"s":"Sex-CHH","x":42,"y":0.033},{"s":"Sex-CHH","x":50,"y":0.031},{"s":"Sex-CHH","x":59,"y":0.030}
    ]
  },
  "spacing": 112,
  "bounds": "flush",
  "hconcat": [
    {
      "width": 297, "height": 294,
      "title": {"text": "A", "dx": -100},
      "data": {"name": "A"},
      "mark": {"type": "line", "strokeWidth": 1.5},
      "encoding": {
        "x": {"field": "x", "type": "quantitative", "scale": {"domain": [-2.82, 61.74], "nice": false, "zero": false},
              "axis": {"values": [0, 20, 40, 60], "title": null, "labelPadding": 10, "labelLineHeight": 19, "labelExpr": "datum.value == 0 ? '-2000' : datum.value == 20 ? ['Start', 'Site'] : datum.value == 40 ? ['End', 'Site'] : '2000'"}},
        "y": {"field": "y", "type": "quantitative", "scale": {"domain": [-0.011, 0.516], "nice": false, "zero": false},
              "axis": {"values": [0, 0.1, 0.2, 0.3, 0.4, 0.5], "format": ".1f", "title": "Methylation level", "labelPadding": 8}},
        "color": {"field": "s", "type": "nominal",
                  "scale": {"domain": ["Asex-CGN", "Sex-CGN", "Asex-CHG", "Sex-CHG", "Asex-CHH", "Sex-CHH"], "range": ["#24519a", "#2aa6c9", "#e8303a", "#9b5bb0", "#47b64b", "#f8b49a"]},
                  "legend": {"legendX": 18, "legendY": 377}}
      }
    },
    {
      "spacing": 88,
      "bounds": "flush",
      "resolve": {"legend": {"color": "independent"}, "scale": {"color": "independent"}},
      "hconcat": [
        {
          "width": 302, "height": 297,
          "title": {"text": "B", "dx": -108},
          "data": {"name": "B"},
          "mark": {"type": "line", "strokeWidth": 1.5},
          "encoding": {
            "x": {"field": "x", "type": "quantitative", "scale": {"domain": [-2.86, 62.16], "nice": false, "zero": false},
                  "axis": {"values": [0, 20, 40, 60], "title": null, "labelPadding": 9, "labelLineHeight": 19, "labelExpr": "datum.value == 0 ? '-2000' : datum.value == 20 ? ['Start', 'Site'] : datum.value == 40 ? ['End', 'Site'] : '2000'"}},
            "y": {"field": "y", "type": "quantitative", "scale": {"domain": [-0.0086, 0.744], "nice": false, "zero": false},
                  "axis": {"values": [0, 0.2, 0.4, 0.6], "format": ".1f", "title": "Methylation level", "labelPadding": 10}},
            "color": {"field": "s", "type": "nominal",
                      "scale": {"domain": ["Asex-CGN", "Sex-CGN", "Asex-CHG", "Sex-CHG", "Asex-CHH", "Sex-CHH"], "range": ["#24519a", "#2aa6c9", "#e8303a", "#9b5bb0", "#47b64b", "#f8b49a"]},
                      "legend": {"legendX": 12, "legendY": 376}}
          }
        },
        {
          "width": 298, "height": 296,
          "title": {"text": "C", "dx": -82},
          "data": {"name": "C"},
          "mark": {"type": "line", "strokeWidth": 1.5},
          "encoding": {
            "x": {"field": "x", "type": "quantitative", "scale": {"domain": [-2.9, 62.16], "nice": false, "zero": false},
                  "axis": {"values": [0, 20, 40, 60], "title": null, "labelPadding": 10, "labelLineHeight": 19, "labelExpr": "datum.value == 0 ? '-2000' : datum.value == 20 ? ['Start', 'Site'] : datum.value == 40 ? ['End', 'Site'] : '2000'"}},
            "y": {"field": "y", "type": "quantitative", "scale": {"domain": [-0.006, 0.727], "nice": false, "zero": false},
                  "axis": {"values": [0, 0.2, 0.4, 0.6], "format": ".1f", "title": "Methylation level", "labelPadding": 3}},
            "color": {"field": "s", "type": "nominal",
                      "scale": {"domain": ["Asex-CGN", "Sex-CGN", "Asex-CHG", "Sex-CHG", "Asex-CHH", "Sex-CHH"], "range": ["#24519a", "#2aa6c9", "#e8303a", "#9b5bb0", "#47b64b", "#f8b49a"]},
                      "legend": {"legendX": 22, "legendY": 375}}
          }
        }
      ]
    }
  ]
}
